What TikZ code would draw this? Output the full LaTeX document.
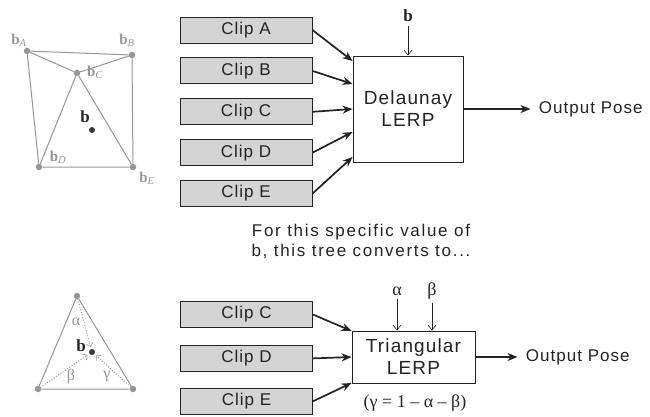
\documentclass[tikz,border=0pt]{standalone}
\usepackage{fontspec}
\setmainfont{Liberation Serif}
\newfontfamily\boxfont[LetterSpace=6]{Liberation Sans}
\newfontfamily\notefont[LetterSpace=10]{Liberation Sans}
\usetikzlibrary{shapes,arrows,arrows.meta,positioning,calc}
\definecolor{vgray}{RGB}{150,150,150}
\definecolor{clipfill}{RGB}{212,212,212}
\definecolor{ink}{RGB}{35,35,35}

\begin{document}
\begin{tikzpicture}[x=1pt, y=-1pt,
      clipbox/.style={draw=ink, fill=clipfill, line width=0.9pt, minimum width=132pt, minimum height=26pt,
        inner sep=0pt, text=ink, font=\boxfont\fontsize{17}{20}\selectfont},
      lerp/.style={draw=ink, fill=white, line width=0.9pt, align=center, inner sep=0pt,
        text=ink, font=\boxfont\fontsize{19}{22}\selectfont},
      outtext/.style={text=ink, font=\boxfont\fontsize{17}{20}\selectfont, anchor=west},
      arrow/.style={-{Stealth[length=10pt,width=8pt]}, line width=1.7pt, ink},
      ctrl/.style={-{Straight Barb[length=5pt,width=8pt]}, line width=0.6pt, ink},
      vert/.style={circle, fill=vgray, inner sep=0pt, minimum size=6.5pt},
      edge/.style={vgray, line width=1pt},
      baryline/.style={vgray, line width=1.3pt, dash pattern=on 0pt off 2.7pt, line cap=round,
        -{Straight Barb[length=3.5pt,width=7pt,line width=0.6pt]}, shorten >=2pt},
      vlabel/.style={text=vgray, font=\fontsize{15}{15}\selectfont},
      sym/.style={text=ink, font=\fontsize{18}{18}\selectfont}
    ]
      \useasboundingbox (0,0) rectangle (650,417);

      % Delaunay triangulation
      \node[vert] (bA) at (27,51) {};
      \node[vert] (bB) at (132,55) {};
      \node[vert] (bC) at (77,73) {};
      \node[vert] (bD) at (39,167) {};
      \node[vert] (bE) at (133,167) {};
      \draw[edge] (bA) -- (bB) -- (bE) -- (bD) -- (bA);
      \draw[edge] (bA) -- (bC) -- (bB);
      \draw[edge] (bD) -- (bC) -- (bE);
      \node[circle, fill=ink!90, inner sep=0pt, minimum size=6pt] (bpt) at (92,130) {};
      \node[vlabel] at (19,40) {\textbf{b}\textsubscript{\textit{A}}};
      \node[vlabel] at (127,40) {\textbf{b}\textsubscript{\textit{B}}};
      \node[vlabel] at (95,72) {\textbf{b}\textsubscript{\textit{C}}};
      \node[vlabel] at (58,157) {\textbf{b}\textsubscript{\textit{D}}};
      \node[vlabel] at (147,178) {\textbf{b}\textsubscript{\textit{E}}};
      \node[sym, font=\fontsize{17}{17}\selectfont\bfseries] at (85,117) {b};

      % Clips
      \node[clipbox] (clipA) at (246,30) {Clip A};
      \node[clipbox, below=14pt of clipA] (clipB) {Clip B};
      \node[clipbox, below=14pt of clipB] (clipC) {Clip C};
      \node[clipbox, below=14pt of clipC] (clipD) {Clip D};
      \node[clipbox, below=14pt of clipD] (clipE) {Clip E};

      % Delaunay LERP
      \node[lerp, minimum width=110pt, minimum height=106pt] (delaunay) at (408,109) {Delaunay\\LERP};
      \node[sym, font=\fontsize{17}{17}\selectfont\bfseries] (bin) at (408,16) {b};
      \node[outtext, right=72pt of delaunay] (outA) {Output Pose};

      % Arrows
      \draw[ctrl] (bin.south) -- (delaunay.north);
      \draw[arrow] (clipA.east) -- ([yshift=48pt]delaunay.west);
      \draw[arrow] (clipB.east) -- ([yshift=25pt]delaunay.west);
      \draw[arrow] (clipC.east) -- (delaunay.west);
      \draw[arrow] (clipD.east) -- ([yshift=-23pt]delaunay.west);
      \draw[arrow] (clipE.east) -- ([yshift=-48pt]delaunay.west);
      \draw[arrow, shorten >=5pt] (delaunay.east) -- (outA.west);

      % Note
      \node[text=ink, align=center, font=\notefont\fontsize{17}{20}\selectfont] (note) at (361,241)
        {For this specific value of\\b, this tree converts to...};

      % Barycentric triangle
      \node[vert] (tA) at (77,296) {};
      \node[vert] (tB) at (38,389) {};
      \node[vert] (tC) at (133,389) {};
      \node[circle, fill=ink!90, inner sep=0pt, minimum size=6pt] (bpt2) at (92,352) {};
      \draw[edge] (tA) -- (tB) -- (tC) -- (tA);
      \draw[baryline] (tA) -- (bpt2);
      \draw[baryline] (tB) -- (bpt2);
      \draw[baryline] (tC) -- (bpt2);
      \node[vlabel, font=\fontsize{16}{16}\selectfont] at (76,322) {α};
      \node[vlabel, font=\fontsize{16}{16}\selectfont] at (71,377) {β};
      \node[vlabel, font=\fontsize{16}{16}\selectfont] at (107,377) {γ};
      \node[sym, font=\fontsize{17}{17}\selectfont\bfseries] at (81,346) {b};

      % Clips (bottom)
      \node[clipbox] (clipC2) at (246.5,314.5) {Clip C};
      \node[clipbox, below=17pt of clipC2] (clipD2) {Clip D};
      \node[clipbox, below=16pt of clipD2] (clipE2) {Clip E};

      % Triangular LERP
      \node[lerp, minimum width=123pt, minimum height=52pt] (tri) at (413.5,357) {Triangular\\LERP};
      \node[sym] (ain) at (397,291) {α};
      \node[sym] (bein) at (432,291) {β};
      \node[outtext, right=47pt of tri] (outB) {Output Pose};
      \node[sym] (gnote) at (415,403) {(γ = 1 – α – β)};

      % Arrows (bottom)
      \draw[ctrl] (ain.south) -- (ain.south |- tri.north);
      \draw[ctrl] (bein.south) -- (bein.south |- tri.north);
      \draw[arrow] (clipC2.east) -- ([yshift=26pt]tri.west);
      \draw[arrow] (clipD2.east) -- (tri.west);
      \draw[arrow] (clipE2.east) -- ([yshift=-26pt]tri.west);
      \draw[arrow, shorten >=5pt] (tri.east) -- (outB.west);
    \end{tikzpicture}
\end{document}
